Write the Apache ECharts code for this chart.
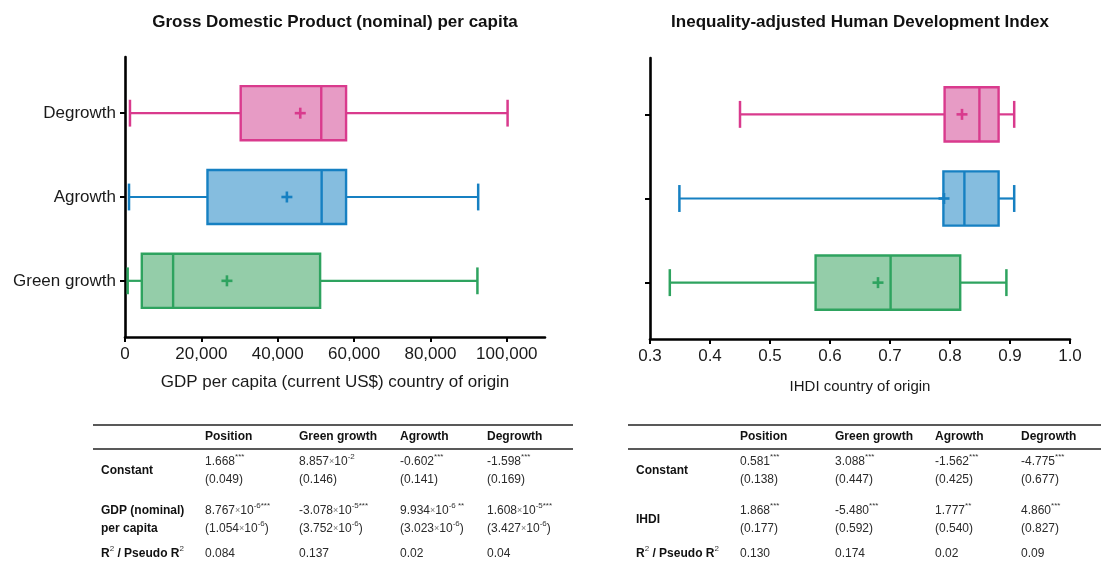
<!DOCTYPE html>
<html><head><meta charset="utf-8">
<script src="https://cdn.jsdelivr.net/npm/echarts@6/dist/echarts.min.js"></script>
<style>
html,body{margin:0;padding:0;background:#fff;}
#chart{position:absolute;left:0;top:0;width:1101px;height:562px;}
</style></head><body>
<div id="chart"></div>
<script>
// ---------- data ----------
const groups = ['Green growth', 'Agrowth', 'Degrowth'];

// GDP per capita (current US$)
const gdpMin    = [700, 1050, 1300];
const gdpQ1     = [4400, 21600, 30300];
const gdpMedian = [12600, 51500, 51400];
const gdpQ3     = [51100, 57900, 57900];
const gdpMax    = [92300, 92500, 100200];
const gdpMean   = [26700, 42400, 45900];
const gdpTicks  = [0, 20000, 40000, 60000, 80000, 100000];

// IHDI
const ihdiMin    = [0.333, 0.349, 0.450];
const ihdiQ1     = [0.576, 0.789, 0.791];
const ihdiMedian = [0.701, 0.824, 0.849];
const ihdiQ3     = [0.817, 0.881, 0.881];
const ihdiMax    = [0.894, 0.907, 0.907];
const ihdiMean   = [0.680, 0.790, 0.820];
const ihdiTicks  = [0.3, 0.4, 0.5, 0.6, 0.7, 0.8, 0.9, 1.0];

// regression tables
const tableHeader = ['Position', 'Green growth', 'Agrowth', 'Degrowth'];
const gdpRowLabels = ['Constant', 'GDP (nominal)\nper capita'];
const gdpConstCoef = ['1.668{s|***}', '8.857{x|×}10{s|-2}', '-0.602{s|***}', '-1.598{s|***}'];
const gdpConstSE   = ['(0.049)', '(0.146)', '(0.141)', '(0.169)'];
const gdpCoef      = ['8.767{x|×}10{s|-6***}', '-3.078{x|×}10{s|-5***}', '9.934{x|×}10{s|-6 **}', '1.608{x|×}10{s|-5***}'];
const gdpSE        = ['(1.054{x|×}10{s|-6})', '(3.752{x|×}10{s|-6})', '(3.023{x|×}10{s|-6})', '(3.427{x|×}10{s|-6})'];
const gdpR2        = ['0.084', '0.137', '0.02', '0.04'];
const ihdiRowLabels = ['Constant', 'IHDI'];
const ihdiConstCoef = ['0.581{s|***}', '3.088{s|***}', '-1.562{s|***}', '-4.775{s|***}'];
const ihdiConstSE   = ['(0.138)', '(0.447)', '(0.425)', '(0.677)'];
const ihdiCoef      = ['1.868{s|***}', '-5.480{s|***}', '1.777{s|**}', '4.860{s|***}'];
const ihdiSE        = ['(0.177)', '(0.592)', '(0.540)', '(0.827)'];
const ihdiR2        = ['0.130', '0.174', '0.02', '0.09'];

// ---------- style ----------
const FONT = 'Arial, "Liberation Sans", Helvetica, sans-serif';
const strokeColors = ['#2EA35F', '#1680C2', '#D93A8D'];
const fillColors   = ['#94CDA9', '#85BDDF', '#E79BC5'];
const TXT = '#1a1a1a';

function boxSeries(idx, mins, q1s, meds, q3s, maxs, means) {
  const data = groups.map((g, i) => [i + 1, mins[i], q1s[i], meds[i], q3s[i], maxs[i], means[i]]);
  return {
    type: 'custom', xAxisIndex: idx, yAxisIndex: idx, data: data,
    encode: { x: [1, 2, 3, 4, 5, 6], y: 0 }, clip: false, silent: true,
    renderItem: function (params, api) {
      const i = params.dataIndex;
      const yv = api.value(0);
      const pMin = api.coord([api.value(1), yv]);
      const pQ1 = api.coord([api.value(2), yv]);
      const pMed = api.coord([api.value(3), yv]);
      const pQ3 = api.coord([api.value(4), yv]);
      const pMax = api.coord([api.value(5), yv]);
      const pMean = api.coord([api.value(6), yv]);
      const unit = api.size([0, 1])[1];
      const bh = unit * 0.645, ch = unit * 0.32, pl = 5.5;
      const cy = pMin[1];
      const stroke = strokeColors[i], fill = fillColors[i];
      const ls = { stroke: stroke, lineWidth: 2.2 };
      return {
        type: 'group',
        children: [
          { type: 'line', shape: { x1: pMin[0], y1: cy, x2: pQ1[0], y2: cy }, style: ls },
          { type: 'line', shape: { x1: pQ3[0], y1: cy, x2: pMax[0], y2: cy }, style: ls },
          { type: 'line', shape: { x1: pMin[0], y1: cy - ch / 2, x2: pMin[0], y2: cy + ch / 2 }, style: { stroke: stroke, lineWidth: 2.5 } },
          { type: 'line', shape: { x1: pMax[0], y1: cy - ch / 2, x2: pMax[0], y2: cy + ch / 2 }, style: { stroke: stroke, lineWidth: 2.5 } },
          { type: 'rect', shape: { x: pQ1[0], y: cy - bh / 2, width: pQ3[0] - pQ1[0], height: bh }, style: { fill: fill, stroke: stroke, lineWidth: 2.4 } },
          { type: 'line', shape: { x1: pMed[0], y1: cy - bh / 2, x2: pMed[0], y2: cy + bh / 2 }, style: { stroke: stroke, lineWidth: 2.4 } },
          { type: 'line', shape: { x1: pMean[0] - pl, y1: pMean[1], x2: pMean[0] + pl, y2: pMean[1] }, style: { stroke: stroke, lineWidth: 2.6 } },
          { type: 'line', shape: { x1: pMean[0], y1: pMean[1] - pl, x2: pMean[0], y2: pMean[1] + pl }, style: { stroke: stroke, lineWidth: 2.6 } }
        ]
      };
    }
  };
}

const axisLineStyle = { show: true, lineStyle: { color: '#000', width: 2.6 } };

function yAxis(idx, showLabels) {
  return {
    type: 'value', gridIndex: idx, min: 0.33, max: 3.67,
    splitLine: { show: false },
    axisLine: axisLineStyle,
    axisTick: { show: true, length: 5, customValues: [1, 2, 3], lineStyle: { color: '#000', width: 2 } },
    axisLabel: {
      show: showLabels, customValues: [1, 2, 3], margin: 9,
      formatter: v => groups[Math.round(v) - 1],
      fontSize: 17, fontFamily: FONT, color: TXT
    }
  };
}

// ---------- tables ----------
const rich = {
  s: { fontSize: 8, verticalAlign: 'top', lineHeight: 11, fontFamily: FONT, fill: '#333', color: '#333' },
  x: { fontSize: 9, fontFamily: FONT, fill: '#777', color: '#777', lineHeight: 18 }
};
function txt(x, y, text, bold) {
  return {
    type: 'text', x: x, y: y, silent: true,
    style: {
      text: text, fontFamily: FONT, fontSize: 12, fontWeight: bold ? 'bold' : 'normal',
      fill: bold ? '#111' : '#2a2a2a', textAlign: 'left', textVerticalAlign: 'middle', verticalAlign: 'middle',
      lineHeight: 18, rich: rich
    }
  };
}
function table(x0, x1, labelX, colX, rowLabels, coef1, se1, coef2, se2, r2) {
  const els = [];
  els.push({ type: 'line', silent: true, shape: { x1: x0, y1: 425, x2: x1, y2: 425 }, style: { stroke: '#222', lineWidth: 1.4 } });
  els.push({ type: 'line', silent: true, shape: { x1: x0, y1: 449, x2: x1, y2: 449 }, style: { stroke: '#222', lineWidth: 1.6 } });
  tableHeader.forEach((h, j) => els.push(txt(colX[j], 437, h, true)));
  els.push(txt(labelX, 471, rowLabels[0], true));
  els.push(txt(labelX, 520, rowLabels[1], true));
  els.push(txt(labelX, 554, 'R{s|2} / Pseudo R{s|2}', true));
  for (let j = 0; j < 4; j++) {
    els.push(txt(colX[j], 471, coef1[j] + '\n' + se1[j], false));
    els.push(txt(colX[j], 520, coef2[j] + '\n' + se2[j], false));
    els.push(txt(colX[j], 554, r2[j], false));
  }
  return els;
}

const leftCols = [205, 299, 400, 487];
const rightCols = [740, 835, 935, 1021];

const graphics = [
  { type: 'text', x: 335, y: 22, silent: true, style: { text: 'Gross Domestic Product (nominal) per capita', fontFamily: FONT, fontSize: 17, fontWeight: 'bold', fill: '#111', textAlign: 'center', textVerticalAlign: 'middle', verticalAlign: 'middle' } },
  { type: 'text', x: 860, y: 22, silent: true, style: { text: 'Inequality-adjusted Human Development Index', fontFamily: FONT, fontSize: 17, fontWeight: 'bold', fill: '#111', textAlign: 'center', textVerticalAlign: 'middle', verticalAlign: 'middle' } }
].concat(
  table(93, 573, 101, leftCols, gdpRowLabels, gdpConstCoef, gdpConstSE, gdpCoef, gdpSE, gdpR2),
  table(628, 1101, 636, rightCols, ihdiRowLabels, ihdiConstCoef, ihdiConstSE, ihdiCoef, ihdiSE, ihdiR2)
);

const chart = echarts.init(document.getElementById('chart'), null, { renderer: 'canvas' });
chart.setOption({
  animation: false,
  backgroundColor: '#fff',
  grid: [
    { left: 125, top: 57, width: 420, height: 280 },
    { left: 650, top: 58, width: 420, height: 281 }
  ],
  xAxis: [
    {
      type: 'value', gridIndex: 0, min: 0, max: 110000,
      splitLine: { show: false }, axisLine: axisLineStyle,
      axisTick: { show: true, length: 5, customValues: gdpTicks, lineStyle: { color: '#000', width: 2 } },
      axisLabel: { customValues: gdpTicks, margin: 9, fontSize: 17, fontFamily: FONT, color: TXT, formatter: v => Number(v).toLocaleString('en-US') },
      name: 'GDP per capita (current US$) country of origin', nameLocation: 'middle', nameGap: 37,
      nameTextStyle: { fontSize: 17, fontFamily: FONT, color: TXT }
    },
    {
      type: 'value', gridIndex: 1, min: 0.3, max: 1.0,
      splitLine: { show: false }, axisLine: axisLineStyle,
      axisTick: { show: true, length: 5, customValues: ihdiTicks, lineStyle: { color: '#000', width: 2 } },
      axisLabel: { customValues: ihdiTicks, margin: 9, fontSize: 17, fontFamily: FONT, color: TXT, formatter: v => Number(v).toFixed(1) },
      name: 'IHDI country of origin', nameLocation: 'middle', nameGap: 40,
      nameTextStyle: { fontSize: 15, fontFamily: FONT, color: TXT }
    }
  ],
  yAxis: [yAxis(0, true), yAxis(1, false)],
  series: [
    boxSeries(0, gdpMin, gdpQ1, gdpMedian, gdpQ3, gdpMax, gdpMean),
    boxSeries(1, ihdiMin, ihdiQ1, ihdiMedian, ihdiQ3, ihdiMax, ihdiMean)
  ],
  graphic: graphics
});
</script>
</body></html>
